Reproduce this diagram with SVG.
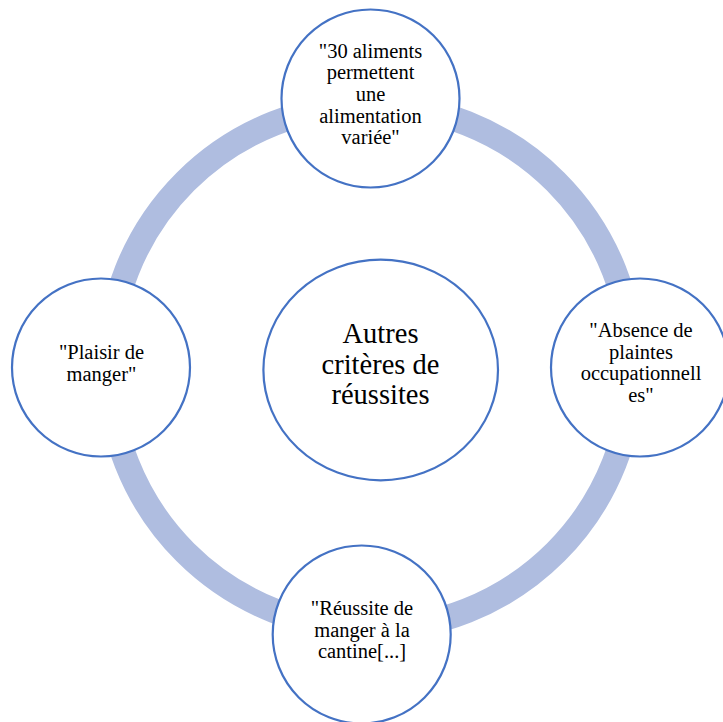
<svg xmlns="http://www.w3.org/2000/svg" width="723" height="722" viewBox="0 0 723 722">
<style>
.node{fill:#ffffff;stroke:#4472C4;stroke-width:2.2}
.t{font-size:20.5px;fill:#000000;text-anchor:middle}
.tc{font-size:28.5px;fill:#000000;text-anchor:middle}
</style>
<rect width="723" height="722" fill="#ffffff"/>
<g id="connectors">
<circle cx="370.5" cy="367" r="262" fill="none" stroke="#AFBDE0" stroke-width="25"/>
</g>
<g font-family="Liberation Serif, DejaVu Serif, serif">
<g id="node-top">
<circle class="node" cx="370.5" cy="98.5" r="89"/>
<text class="t" x="370.5" y="57.5">"30 aliments</text>
<text class="t" x="370.5" y="79.2">permettent</text>
<text class="t" x="370.5" y="100.9">une</text>
<text class="t" x="370.5" y="122.6">alimentation</text>
<text class="t" x="370.5" y="144.3">variée"</text>
</g>
<g id="node-right">
<circle class="node" cx="640" cy="367.5" r="89"/>
<text class="t" x="641" y="337">"Absence de</text>
<text class="t" x="641" y="358.7">plaintes</text>
<text class="t" x="641" y="380.4">occupationnell</text>
<text class="t" x="641" y="402">es"</text>
</g>
<g id="node-bottom">
<circle class="node" cx="361.7" cy="634.5" r="89"/>
<text class="t" x="362" y="615">"Réussite de</text>
<text class="t" x="362" y="636.7">manger à la</text>
<text class="t" x="362" y="658.4">cantine[...]</text>
</g>
<g id="node-left">
<circle class="node" cx="101" cy="367.5" r="89"/>
<text class="t" x="101.5" y="359">"Plaisir de</text>
<text class="t" x="101.5" y="380.7">manger"</text>
</g>
<g id="node-center">
<ellipse class="node" cx="380.7" cy="370" rx="117.3" ry="110.3"/>
<text class="tc" x="380.5" y="343.3">Autres</text>
<text class="tc" x="380.5" y="373.8">critères de</text>
<text class="tc" x="380.5" y="403.5">réussites</text>
</g>
</g>
</svg>
